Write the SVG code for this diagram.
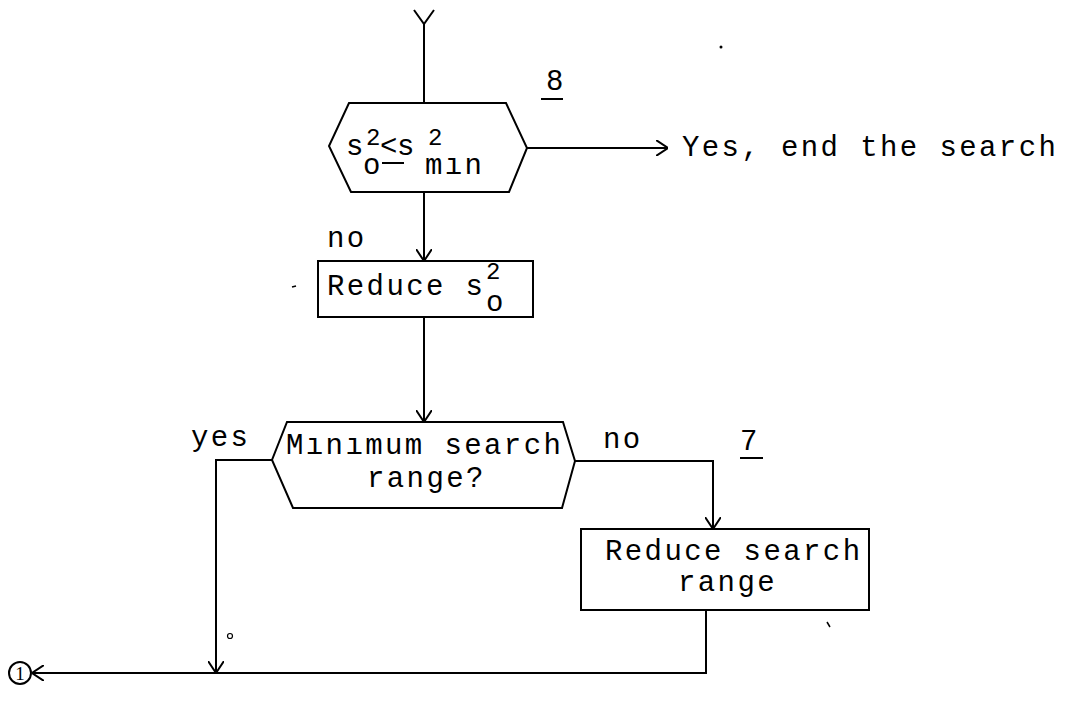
<svg xmlns="http://www.w3.org/2000/svg" width="1072" height="725" viewBox="0 0 1072 725">
  <style>
    .shape { fill: none; stroke: #000; stroke-width: 2; }
    .line { fill: none; stroke: #000; stroke-width: 2; }
    .head { fill: none; stroke: #000; stroke-width: 2; stroke-linejoin: miter; }
    .t { font-family: "Liberation Mono", "Courier New", monospace; font-size: 29px; letter-spacing: 2.4px; fill: #000; }
    .c { font-family: "Liberation Mono", "Courier New", monospace; font-size: 29px; fill: #000; }
    .s { font-family: "Liberation Mono", "Courier New", monospace; font-size: 24px; fill: #000; }
  </style>
  <defs>
    <marker id="open" viewBox="0 0 12 16" refX="12" refY="8" markerWidth="12" markerHeight="16" markerUnits="userSpaceOnUse" orient="auto">
      <path d="M0,0 L12,8 L0,16" fill="none" stroke="#000" stroke-width="2"/>
    </marker>
  </defs>

  <!-- decision: variance threshold -->
  <g id="decision-variance">
    <polygon class="shape" points="349,103 506,103 527,148 509,192 351,192 329,146"/>
    <text class="c" x="346" y="155">s</text>
    <text class="s" x="366" y="145">2</text>
    <text class="c" x="380" y="155">&lt;</text>
    <text class="c" x="397" y="155">s</text>
    <text class="s" x="428" y="145">2</text>
    <text class="c" x="363" y="174">o</text>
    <line class="line" x1="382" y1="163" x2="404" y2="163"/>
    <text class="t" x="425" y="174">mın</text>
  </g>
  <g id="label-8">
    <text class="t" x="546" y="90">8</text>
    <line class="line" x1="541" y1="99" x2="563" y2="99"/>
  </g>

  <!-- end text -->
  <g id="end-search">
    <text class="t" x="682" y="156">Yes, end the search</text>
  </g>

  <!-- process: reduce variance -->
  <g id="reduce-variance">
    <rect class="shape" x="318" y="261" width="215" height="56"/>
    <text class="t" x="327" y="295">Reduce s</text>
    <text class="s" x="486" y="279">2</text>
    <text class="c" x="486" y="311">o</text>
  </g>

  <!-- decision: minimum range -->
  <g id="decision-range">
    <polygon class="shape" points="287,422 563,422 575,461 562,508 293,508 272,460"/>
    <text class="t" x="286" y="454">Mınımum search</text>
    <text class="t" x="367" y="487">range?</text>
  </g>
  <g id="label-7">
    <text class="t" x="740" y="450">7</text>
    <line class="line" x1="740" y1="458" x2="763" y2="458"/>
  </g>

  <!-- process: reduce range -->
  <g id="reduce-range">
    <rect class="shape" x="581" y="529" width="288" height="81"/>
    <text class="t" x="605" y="560">Reduce search</text>
    <text class="t" x="678" y="591">range</text>
  </g>

  <!-- connector terminal 1 -->
  <g id="terminal-1">
    <circle class="shape" cx="20" cy="673" r="11"/>
    <text x="20" y="680" text-anchor="middle" style="font-family:'Liberation Serif',serif;font-size:19px;fill:#000">1</text>
  </g>

  <!-- connectors -->
  <g id="connectors">
    <path class="line" d="M424,24 L424,103"/>
    <path class="head" d="M414,10 L424,24 L434,10"/>
    <path class="line" d="M527,148 L668,148" marker-end="url(#open)"/>
    <path class="line" d="M424,192 L424,261" marker-end="url(#open)"/>
    <path class="line" d="M424,317 L424,422" marker-end="url(#open)"/>
    <path class="line" d="M575,461 L713,461 L713,529" marker-end="url(#open)"/>
    <path class="line" d="M272,460 L216,460 L216,673" marker-end="url(#open)"/>
    <path class="line" d="M706,610 L706,673 L32,673" marker-end="url(#open)"/>
  </g>

  <!-- connector labels -->
  <g id="labels">
    <text class="t" x="327" y="247">no</text>
    <text class="t" x="191" y="446">yes</text>
    <text class="t" x="603" y="448">no</text>
  </g>

  <!-- stray marks -->
  <g id="marks">
    <circle cx="230" cy="636" r="2.5" fill="none" stroke="#000" stroke-width="1.2"/>
    <circle cx="721" cy="47" r="1.5" fill="#000"/>
    <line x1="292" y1="287" x2="296" y2="286" stroke="#000" stroke-width="1.5"/>
    <line x1="827" y1="622" x2="830" y2="627" stroke="#000" stroke-width="1.5"/>
  </g>
</svg>
